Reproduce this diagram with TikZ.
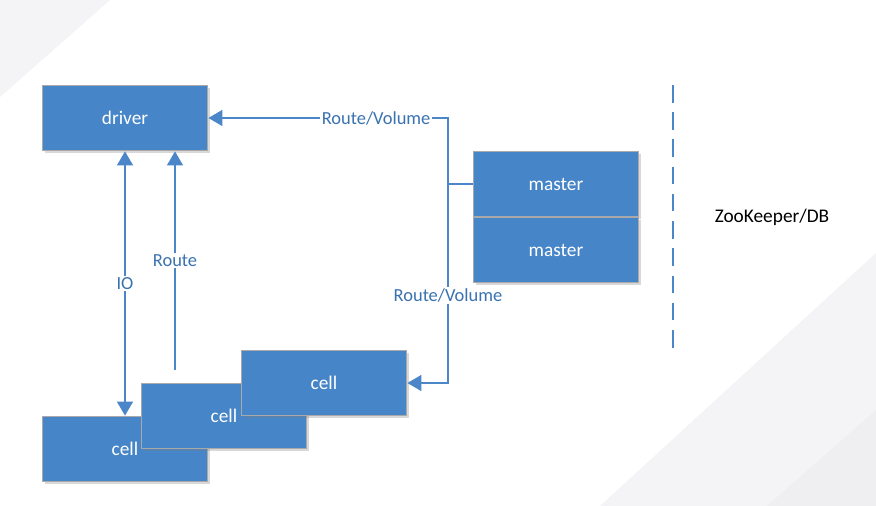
\documentclass[tikz,border=0pt]{standalone}
\usepackage{fontspec}
\setmainfont{Carlito}
\usetikzlibrary{arrows.meta, shadows}
\definecolor{boxblue}{HTML}{4685C7}
\definecolor{linkblue}{HTML}{4A86C8}
\definecolor{labelblue}{HTML}{3A72B0}
\definecolor{bordergray}{HTML}{A9A9A9}
\definecolor{shadegray}{HTML}{F4F4F6}
\definecolor{shadegraydark}{HTML}{EFEFF1}

\begin{document}
\begin{tikzpicture}[x=0.02cm, y=-0.02cm, >={Triangle[width=9pt,length=8pt]},
  box/.style={draw=bordergray, line width=1pt, fill=boxblue, text=white,
    minimum width=3.3cm, minimum height=1.3cm, inner sep=0pt,
    font=\fontsize{11}{13}\selectfont,
    drop shadow={opacity=0.3, shadow xshift=1.2pt, shadow yshift=-1.2pt}},
  link/.style={linkblue, line width=1.2pt},
  tag/.style={fill=white, text=labelblue, inner sep=1pt, font=\fontsize{10.5}{12}\selectfont}]
  \useasboundingbox (0,0) rectangle (876,506);
  % background
  \fill[white] (0,0) rectangle (876,506);
  \fill[shadegray] (0,0) -- (110,0) -- (0,97) -- cycle;
  \fill[shadegray] (600,506) -- (876,253) -- (876,506) -- cycle;
  \fill[shadegraydark] (767,506) -- (876,410) -- (876,506) -- cycle;
  % boxes
  \node[box] (driver) at (125,118) {driver};
  \node[box] (master1) at (556,184) {master};
  \node[box] (master2) at (556,250) {master};
  \node[box] (cell1) at (125,449) {cell};
  \node[box] (cell2) at (224,416) {cell};
  \node[box] (cell3) at (324,383) {cell};
  % connectors
  \coordinate (split) at (448,184);
  \coordinate (routefoot) at (175,370);
  \draw[link, <->] (driver.south) -- node[tag] {IO} (cell1.north);
  \draw[link, ->] (routefoot) -- node[tag] {Route} (routefoot |- driver.south);
  \draw[link, ->] (master1.west) -- (split) |- node[pos=0.65, tag] {Route/Volume} (driver.east);
  \draw[link, ->] (split) |- node[pos=0.28, tag] {Route/Volume} (cell3.east);
  % ZooKeeper side
  \coordinate (dtop) at (673,85);
  \coordinate (dbot) at (673,351);
  \draw[link, dash pattern=on 10pt off 5.5pt] (dtop) -- (dbot);
  \node[font=\fontsize{11}{13}\selectfont] (zk) at (772,217) {ZooKeeper/DB};
\end{tikzpicture}
\end{document}
